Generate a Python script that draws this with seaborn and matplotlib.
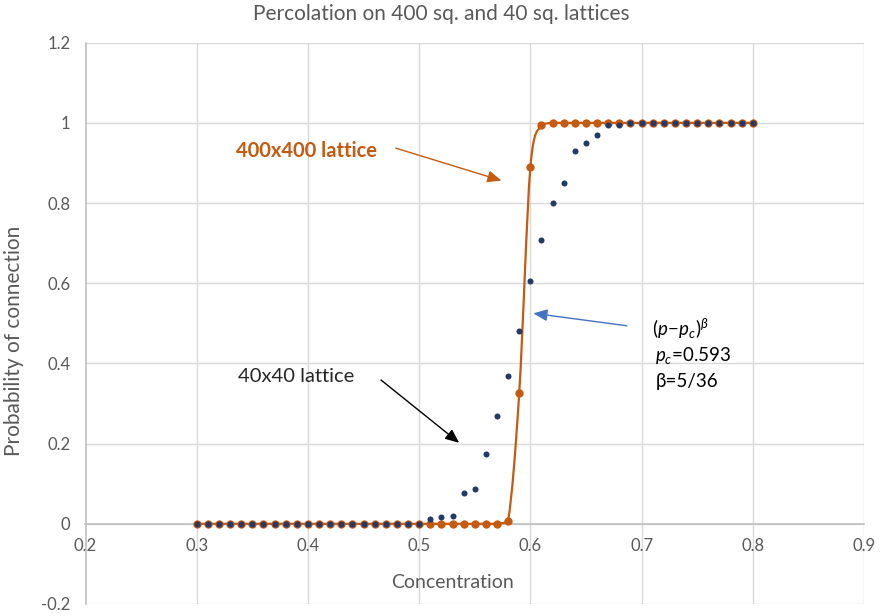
import numpy as np
import pandas as pd
import matplotlib
matplotlib.use("Agg")
import matplotlib.pyplot as plt
from matplotlib.path import Path
from matplotlib.patches import PathPatch
import seaborn as sns

# Site concentration p (fraction of occupied sites)
concentration = [0.30, 0.31, 0.32, 0.33, 0.34, 0.35, 0.36, 0.37, 0.38, 0.39,
                 0.40, 0.41, 0.42, 0.43, 0.44, 0.45, 0.46, 0.47, 0.48, 0.49,
                 0.50, 0.51, 0.52, 0.53, 0.54, 0.55, 0.56, 0.57, 0.58, 0.59,
                 0.60, 0.61, 0.62, 0.63, 0.64, 0.65, 0.66, 0.67, 0.68, 0.69,
                 0.70, 0.71, 0.72, 0.73, 0.74, 0.75, 0.76, 0.77, 0.78, 0.79,
                 0.80]

# Probability of a spanning cluster, 400x400 lattice
prob_400 = [0, 0, 0, 0, 0, 0, 0, 0, 0, 0,
            0, 0, 0, 0, 0, 0, 0, 0, 0, 0,
            0, 0, 0, 0, 0, 0, 0, 0, 0.008, 0.327,
            0.889, 0.994, 1, 1, 1, 1, 1, 1, 1, 1,
            1, 1, 1, 1, 1, 1, 1, 1, 1, 1,
            1]

# Probability of a spanning cluster, 40x40 lattice
prob_40 = [0, 0, 0, 0, 0, 0, 0, 0, 0, 0,
           0, 0, 0, 0, 0, 0, 0, 0, 0, 0,
           0, 0.012, 0.017, 0.020, 0.078, 0.086, 0.175, 0.268, 0.368, 0.481,
           0.606, 0.709, 0.801, 0.849, 0.929, 0.949, 0.971, 0.994, 0.994, 0.999,
           1, 1, 1, 1, 1, 1, 1, 1, 1, 1,
           1]

x_ticks = [0.2, 0.3, 0.4, 0.5, 0.6, 0.7, 0.8, 0.9]
y_ticks = [-0.2, 0, 0.2, 0.4, 0.6, 0.8, 1.0, 1.2]
x_tick_labels = ["0.2", "0.3", "0.4", "0.5", "0.6", "0.7", "0.8", "0.9"]
y_tick_labels = ["-0.2", "0", "0.2", "0.4", "0.6", "0.8", "1", "1.2"]

ORANGE = "#C55A11"
NAVY = "#23396A"
TEXT_GREY = "#595959"
GRID = "#D9D9D9"
AXIS = "#BFBFBF"

sns.set_theme(style="white")
plt.rcParams["font.family"] = ["Lato", "DejaVu Sans"]
plt.rcParams["mathtext.fontset"] = "custom"
plt.rcParams["mathtext.rm"] = "Lato"
plt.rcParams["mathtext.it"] = "Lato:italic"
plt.rcParams["mathtext.bf"] = "Lato:bold"

W, H = 881, 616
fig = plt.figure(figsize=(W / 100, H / 100), dpi=100)
ax = fig.add_axes([85.5 / W, 12 / H, (864 - 85.5) / W, (604 - 42.7) / H])

df = pd.DataFrame({"p": concentration, "L400": prob_400, "L40": prob_40})


def smooth_path(xs, ys):
    """Bezier path through the points; control handles follow neighbouring
    slopes and are kept within each segment's vertical range."""
    pts = np.column_stack([xs, ys]).astype(float)
    n = len(pts)
    verts = [pts[0]]
    codes = [Path.MOVETO]
    for i in range(n - 1):
        p0 = pts[i - 1] if i > 0 else pts[i]
        p1 = pts[i]
        p2 = pts[i + 1]
        p3 = pts[i + 2] if i + 2 < n else pts[i + 1]
        c1 = p1 + (p2 - p0) / 6.0
        c2 = p2 - (p3 - p1) / 6.0
        lo, hi = min(p1[1], p2[1]), max(p1[1], p2[1])
        c1[1] = np.clip(c1[1], lo, hi)
        c2[1] = np.clip(c2[1], lo, hi)
        verts += [c1, c2, p2]
        codes += [Path.CURVE4] * 3
    return Path(verts, codes)


ax.add_patch(PathPatch(smooth_path(df["p"], df["L400"]), fill=False,
                       edgecolor=ORANGE, lw=1.6, zorder=3))
sns.scatterplot(data=df, x="p", y="L400", ax=ax, color=ORANGE, s=36,
                linewidth=0, zorder=4, legend=False)
sns.scatterplot(data=df, x="p", y="L40", ax=ax, color=NAVY, s=19,
                linewidth=0, zorder=5, legend=False)

ax.set_xlim(0.2, 0.9)
ax.set_ylim(-0.2, 1.2)
ax.set_xticks(x_ticks)
ax.set_yticks(y_ticks)
ax.set_xticklabels(x_tick_labels)
ax.set_yticklabels(y_tick_labels)
ax.grid(True, color=GRID, lw=1.0, zorder=0)
ax.set_axisbelow(True)
for side in ["top", "right"]:
    ax.spines[side].set_visible(False)
ax.spines["bottom"].set_position(("data", 0))
ax.spines["bottom"].set_color(AXIS)
ax.spines["bottom"].set_linewidth(1.2)
ax.spines["left"].set_color(AXIS)
ax.spines["left"].set_linewidth(1.2)
ax.tick_params(axis="x", length=0, pad=10, labelsize=12, labelcolor=TEXT_GREY)
ax.tick_params(axis="y", length=0, pad=11, labelsize=12, labelcolor=TEXT_GREY)
ax.set_xlabel("")
ax.set_ylabel("")

# titles
fig.text(441 / W, 1 - 14 / H, "Percolation on 400 sq. and 40 sq. lattices",
         ha="center", va="center", fontsize=15, color=TEXT_GREY)
fig.text(453 / W, 1 - 583 / H, "Concentration", ha="center", va="center",
         fontsize=14, color=TEXT_GREY)
fig.text(14 / W, 1 - 341 / H, "Probability of connection", ha="center",
         va="center", rotation=90, fontsize=15, color=TEXT_GREY)

# annotations
ax.text(0.3355, 0.931, "400x400 lattice", ha="left", va="center",
        fontsize=14.5, fontweight="bold", color=ORANGE)
ax.annotate("", xy=(0.574, 0.856), xytext=(0.479, 0.937),
            arrowprops=dict(arrowstyle="-|>,head_length=0.7,head_width=0.3",
                            color=ORANGE, lw=1.0, shrinkA=0, shrinkB=0))

ax.text(0.337, 0.367, "40x40 lattice", ha="left", va="center",
        fontsize=14.5, color="#262626")
ax.annotate("", xy=(0.536, 0.202), xytext=(0.4657, 0.3587),
            arrowprops=dict(arrowstyle="-|>,head_length=0.7,head_width=0.3",
                            color="black", lw=1.0, shrinkA=0, shrinkB=0))

ax.annotate("", xy=(0.6027, 0.525), xytext=(0.6867, 0.494),
            arrowprops=dict(arrowstyle="-|>,head_length=0.7,head_width=0.3",
                            color="#4472C4", lw=1.0, shrinkA=0, shrinkB=0))
ax.text(0.709, 0.486, r"$(p\!-\!p_c)^{\beta}$", ha="left", va="center",
        fontsize=13.5, color="black")
ax.text(0.712, 0.4186, r"$p_c$=0.593", ha="left", va="center",
        fontsize=13.5, color="black")
ax.text(0.713, 0.354, "β=5/36", ha="left", va="center",
        fontsize=13.5, color="black")

fig.savefig("out.png", dpi=100)
